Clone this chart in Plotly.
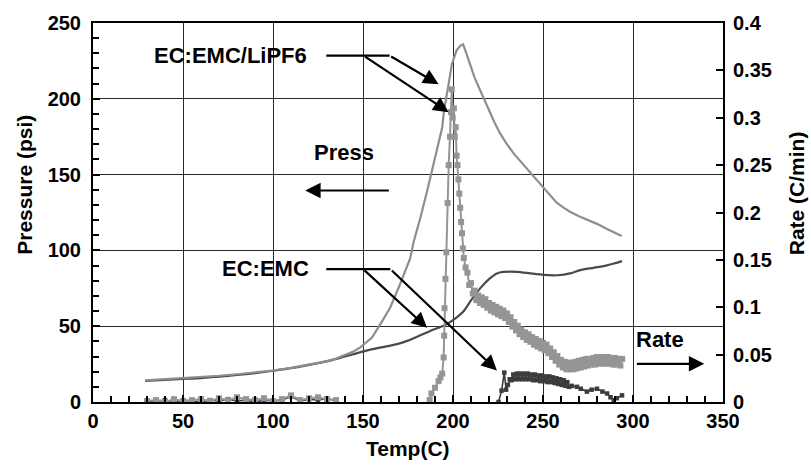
import plotly.graph_objects as go

# ---------------- data ----------------
# Pressure, EC:EMC/LiPF6 (light gray)
p_lipf6_t = [29, 40, 50, 60, 70, 80, 90, 100, 110, 120, 130, 135, 140, 145, 148.5, 155, 160, 165, 170, 174,
             176.3, 178, 182, 186, 190, 194, 195, 196, 197.6, 199.4, 202, 204, 205.6, 207, 209.6, 212, 215.2,
             218, 220, 223, 226, 230, 234, 238, 243, 247, 250, 254, 257.6, 261, 265, 270, 276.3, 280, 285,
             290, 293.7]
p_lipf6_v = [14.3, 15.0, 15.8, 16.4, 17.3, 18.3, 19.4, 20.8, 22.5, 24.6, 27.0, 28.6, 31.0, 33.5, 36.0, 42.5,
             52.0, 62.0, 76.0, 88.0, 95.0, 105.0, 122.0, 141.0, 160.0, 181.0, 192.0, 200.0, 210.0, 223.0,
             232.0, 235.0, 236.0, 231.5, 222.7, 214.0, 205.3, 197.5, 192.0, 184.5, 177.5, 170.0, 163.5,
             158.0, 151.0, 146.0, 141.5, 136.0, 131.5, 128.5, 125.5, 122.5, 119.5, 117.5, 114.5, 111.5,
             109.5]

# Pressure, EC:EMC (dark gray)
p_emc_t = [29, 40, 50, 60, 70, 80, 90, 100, 110, 120, 131.8, 140, 150.3, 160, 168.9, 175, 180, 187.4, 195.7,
           200, 205.9, 210, 215.2, 220, 224.4, 228, 235.6, 243, 250.3, 258, 265, 270.7, 278, 285, 290, 293.9]
p_emc_v = [14.0, 14.6, 15.2, 15.8, 16.8, 17.8, 19.0, 20.6, 22.3, 24.5, 27.3, 30.0, 33.4, 36.0, 38.2, 40.5,
           43.0, 46.9, 50.8, 54.0, 59.9, 67.0, 75.1, 81.0, 84.8, 85.8, 85.9, 84.8, 83.8, 83.6, 84.8, 87.0,
           88.5, 90.0, 91.5, 92.9]

# Self-heating rate, EC:EMC/LiPF6 (light gray, square markers); None = gap in record
r_lipf6_t = [30, 35, 40, 45, 50, 55, 60, 65, 70, 75, 80, 85, 90, 95, 100, 105, 110, 115, 120, 125, 130, 135,
             None,
             187, 188, 190, 192, 193, 194, 194.8, 195.1, 195.3, 195.8, 196.3, 197, 197.6, 198.3, 198.9, 199.3,
             199.8, 200.5, 201, 201.5, 202, 202.5, 203, 203.5, 204, 204.5, 205, 205.5, 206, 207,
             208, 209, 210, 211, 212, 213, 214, 215, 216, 217, 218, 219, 220, 221, 222, 223, 224, 225, 226,
             227, 228, 229, 230, 231, 232, 233, 234, 235, 236, 237, 238, 239, 240, 241, 242, 243, 244, 245,
             246, 247, 248, 249, 250, 251, 252, 253, 254, 255, 256, 257, 258, 259, 260, 261, 262, 263, 264,
             265, 266, 267, 268, 269, 270, 271, 272, 273, 274, 275, 276, 277, 278, 279, 280, 281, 282, 283,
             284, 285, 286, 287, 288, 289, 290, 291, 292, 293, 294]
r_lipf6_v = [0.001, 0.002, 0.0, 0.003, 0.001, 0.002, 0.003, 0.001, 0.004, 0.002, 0.005, 0.003, 0.002, 0.004,
             0.001, 0.003, 0.007, 0.002, 0.004, 0.005, 0.003, 0.002,
             None,
             0.002, 0.009, 0.015, 0.022, 0.026, 0.030, 0.047, 0.070, 0.099, 0.130, 0.158, 0.210, 0.250,
             0.280, 0.306, 0.330,
             0.300, 0.310, 0.280, 0.290, 0.260, 0.250, 0.235, 0.220, 0.205, 0.190, 0.178, 0.162, 0.152, 0.142,
             0.1365, 0.1235, 0.1255, 0.1145, 0.1175, 0.1075, 0.1125, 0.1045, 0.1105, 0.1025, 0.1085, 0.0995,
             0.1045, 0.0965, 0.1025, 0.0945, 0.1005, 0.0925, 0.0985, 0.0905, 0.0965, 0.0885, 0.0935, 0.0845,
             0.0895, 0.0795, 0.0845, 0.0755, 0.0805, 0.0715, 0.0765, 0.0685, 0.0735, 0.0655, 0.0715, 0.0635,
             0.0685, 0.0605, 0.0665, 0.0585, 0.0645, 0.0565, 0.0625, 0.0545, 0.0605, 0.0515, 0.0565, 0.0475,
             0.0525, 0.0435, 0.0485, 0.0395, 0.0445, 0.0365, 0.0425, 0.0345, 0.0415, 0.0345, 0.0415, 0.0345,
             0.0425, 0.0355, 0.0435, 0.0365, 0.0445, 0.0375, 0.0455, 0.0385, 0.0455, 0.0395, 0.0465, 0.0395,
             0.0475, 0.0405, 0.0475, 0.0405, 0.0475, 0.0405, 0.0475, 0.0405, 0.0465, 0.0395, 0.0465, 0.0395,
             0.0455, 0.0385, 0.0455]

# Self-heating rate, EC:EMC (dark gray, small markers)
r_emc_t = [30, 35, 40, 45, 50, 55, 60, 65, 70, 75, 80, 85, 90, 95, 100, 105, 110, 115, 120, 125, 130, 135,
           None,
           225.3, 227, 228.5, 229.5, 230.5, 231.5, 232.5, 233.5, 234.5, 235.5, 236.5, 237.5, 238.5, 239.5,
           240.5, 241.5, 242.5, 243.5, 244.5, 245.5, 246.5, 247.5, 248.5, 249.5, 250.5, 251.5, 252.5, 253.5,
           254.5, 255.5, 256.5, 257.5, 258.5, 259.5, 260.5, 261.5, 262.5, 263.5, 264.5, 266, 268.9, 271,
           274.4, 277, 280, 283, 285.6, 287.5, 289.3, 291, 293.9]
r_emc_v = [0.0, 0.001, 0.002, 0.0, 0.002, 0.001, 0.0, 0.002, 0.001, 0.003, 0.001, 0.002, 0.0, 0.002, 0.001,
           0.002, 0.006, 0.001, 0.003, 0.002, 0.004, 0.001,
           None,
           0.0, 0.012, 0.031, 0.013, 0.018, 0.024, 0.023, 0.029, 0.024, 0.030, 0.024, 0.030, 0.024, 0.030,
           0.024, 0.030, 0.024, 0.029, 0.023, 0.029, 0.023, 0.028, 0.022, 0.028, 0.022, 0.027, 0.021, 0.027,
           0.021, 0.026, 0.020, 0.025, 0.019, 0.024, 0.018, 0.023, 0.017, 0.021, 0.016, 0.017, 0.016, 0.014,
           0.011, 0.013, 0.014, 0.011, 0.009, 0.005, 0.002, 0.004, 0.007]

# Axis ticks
x_ticks = [0, 50, 100, 150, 200, 250, 300, 350]
p_ticks = [0, 50, 100, 150, 200, 250]
r_ticks = [0, 0.05, 0.1, 0.15, 0.2, 0.25, 0.3, 0.35, 0.4]
r_tick_text = ["0", "0.05", "0.1", "0.15", "0.2", "0.25", "0.3", "0.35", "0.4"]

# Callout labels: (text, x, y) in Temp / Pressure units
labels = [("EC:EMC/LiPF6", 76.4, 228.7), ("Press", 139.2, 164.5),
          ("EC:EMC", 95.6, 88.1), ("Rate", 315.2, 41.5)]
# leader lines: (x0, x1, y)
leaders = [(129.6, 164.8, 228.5), (129.6, 165.2, 87.7)]
# arrows: (tail_x, tail_y, tip_x, tip_y)
arrows = [(150.3, 228.5, 197.6, 191.2), (164.8, 228.5, 192.0, 209.6),
          (165.2, 139.5, 117.9, 139.5),
          (150.0, 87.7, 185.6, 49.0), (165.2, 87.7, 224.4, 20.8),
          (301.3, 25.2, 339.6, 25.2)]

# ---------------- figure ----------------
FONT = "Liberation Sans, Arial, Helvetica, sans-serif"
LIGHT = "#8e8e8e"
DARK = "#4a4a4a"

fig = go.Figure()
fig.add_trace(go.Scatter(x=p_emc_t, y=p_emc_v, mode="lines",
                         line=dict(color=DARK, width=2.2, shape="spline", smoothing=0.6),
                         yaxis="y", name="Press EC:EMC"))
fig.add_trace(go.Scatter(x=p_lipf6_t, y=p_lipf6_v, mode="lines", line=dict(color=LIGHT, width=2.2),
                         yaxis="y", name="Press EC:EMC/LiPF6"))
fig.add_trace(go.Scatter(x=r_emc_t, y=r_emc_v, mode="lines+markers", connectgaps=False,
                         line=dict(color="#3c3c3c", width=1.6),
                         marker=dict(symbol="square", size=4.5, color="#3c3c3c"),
                         yaxis="y2", name="Rate EC:EMC"))
fig.add_trace(go.Scatter(x=r_lipf6_t, y=r_lipf6_v, mode="lines+markers", connectgaps=False,
                         line=dict(color="#959595", width=2),
                         marker=dict(symbol="square", size=6, color="#959595"),
                         yaxis="y2", name="Rate EC:EMC/LiPF6"))

annotations = []
for text, x, y in labels:
    annotations.append(dict(x=x, y=y, xref="x", yref="y", text=text, showarrow=False,
                            xanchor="center", yanchor="middle",
                            font=dict(family=FONT, size=22, color="black", weight="bold")))
for tx, ty, hx, hy in arrows:
    annotations.append(dict(x=hx, y=hy, xref="x", yref="y", ax=tx, ay=ty, axref="x", ayref="y",
                            text="", showarrow=True, arrowhead=2, arrowsize=1.4, arrowwidth=2.2,
                            arrowcolor="black", standoff=0))
# axis titles
title_font = dict(family=FONT, size=21, color="black", weight="bold")
annotations.append(dict(x=-0.108, y=0.573, xref="paper", yref="paper", text="Pressure (psi)",
                        textangle=-90, showarrow=False, xanchor="center", yanchor="middle",
                        font=title_font))
annotations.append(dict(x=1.117, y=0.55, xref="paper", yref="paper", text="Rate (C/min)",
                        textangle=-90, showarrow=False, xanchor="center", yanchor="middle",
                        font=title_font))
annotations.append(dict(x=0.5, y=-0.122, xref="paper", yref="paper", text="Temp(C)",
                        showarrow=False, xanchor="center", yanchor="middle",
                        font=title_font))

shapes = [dict(type="line", xref="x", yref="y", x0=a, x1=b, y0=y, y1=y,
               line=dict(color="black", width=2.2)) for a, b, y in leaders]

tickfont = dict(family=FONT, size=20, color="black", weight="bold")
fig.update_layout(
    width=811, height=468,
    margin=dict(l=93, r=88, t=18, b=66),
    paper_bgcolor="white", plot_bgcolor="white",
    showlegend=False,
    annotations=annotations, shapes=shapes,
    xaxis=dict(range=[0, 350], tickvals=x_ticks, showgrid=True, gridcolor="#2a2a2a", gridwidth=1.4,
               zeroline=False, showline=True, linecolor="black", linewidth=2, mirror=True,
               ticks="inside", ticklen=7, tickwidth=1.5, tickcolor="black", tickfont=tickfont,
               ticklabelstandoff=0,
               minor=dict(dtick=10, ticks="inside", ticklen=6, tickwidth=1.5, tickcolor="black",
                          showgrid=False)),
    yaxis=dict(range=[0, 250], tickvals=p_ticks, showgrid=True, gridcolor="#2a2a2a", gridwidth=1.4,
               zeroline=False, showline=True, linecolor="black", linewidth=2, mirror=True,
               ticks="inside", ticklen=7, tickwidth=1.5, tickcolor="black", tickfont=tickfont,
               ticklabelstandoff=6,
               minor=dict(dtick=10, ticks="inside", ticklen=6, tickwidth=1.5, tickcolor="black",
                          showgrid=False)),
    yaxis2=dict(range=[0, 0.4], tickvals=r_ticks, ticktext=r_tick_text, overlaying="y", side="right",
                showgrid=False, zeroline=False, showline=True, linecolor="black", linewidth=2,
                ticks="inside", ticklen=7, tickwidth=1.5, tickcolor="black", tickfont=tickfont,
                ticklabelstandoff=4),
)

fig.write_html("out.html")
